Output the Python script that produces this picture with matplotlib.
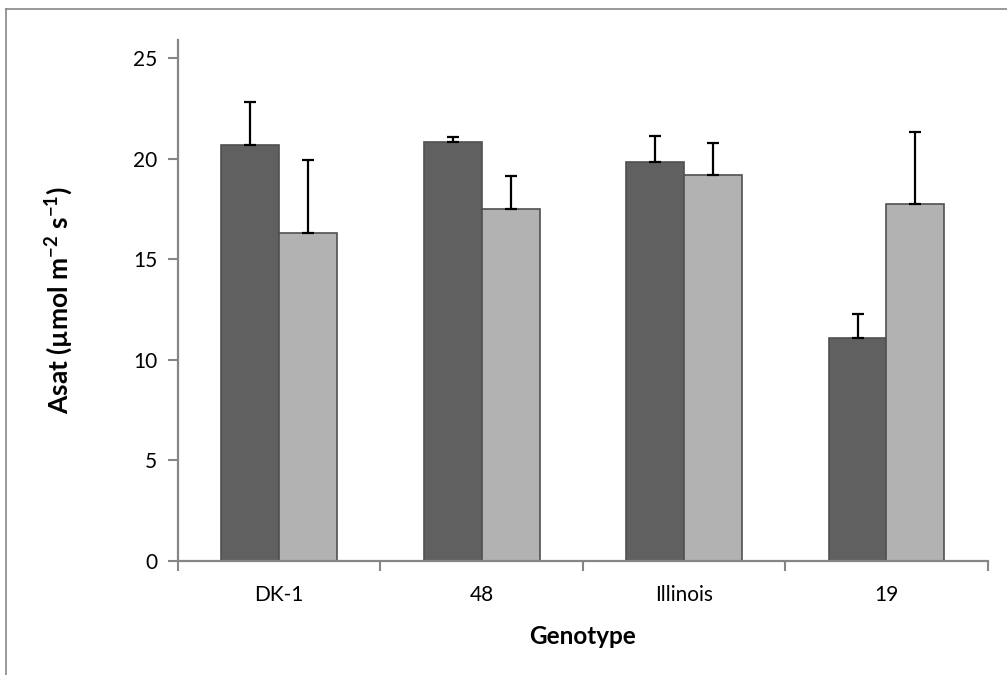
import numpy as np
import matplotlib
matplotlib.use("Agg")
import matplotlib.pyplot as plt
from matplotlib.lines import Line2D

plt.rcParams['font.family'] = ['Lato', 'DejaVu Sans']

genotypes = ["DK-1", "48", "Illinois", "19"]
dark_vals = [20.72, 20.86, 19.83, 11.1]
dark_err = [2.13, 0.22, 1.3, 1.2]
light_vals = [16.32, 17.5, 19.2, 17.76]
light_err = [3.63, 1.66, 1.61, 3.59]

fig = plt.figure(figsize=(10.07, 6.75), dpi=100)
ax = fig.add_axes([178/1007, 1-561/675, (987.7-178)/1007, (561-40)/675])

x = np.arange(len(genotypes))
w = 0.286
ax.bar(x - w/2, dark_vals, w, color="#606060", edgecolor="#505050", linewidth=1.2, zorder=2)
ax.bar(x + w/2, light_vals, w, color="#b2b2b2", edgecolor="#505050", linewidth=1.2, zorder=2)
ax.errorbar(x - w/2, dark_vals, yerr=[np.zeros(4), dark_err], fmt="none",
            ecolor="black", elinewidth=1.6, capsize=4.3, capthick=1.6, zorder=3)
ax.errorbar(x + w/2, light_vals, yerr=[np.zeros(4), light_err], fmt="none",
            ecolor="black", elinewidth=1.6, capsize=4.3, capthick=1.6, zorder=3)

ax.set_xlim(-0.5, 3.5)
ax.set_ylim(0, 25.92)
ax.set_yticks([0, 5, 10, 15, 20, 25])
ax.set_xticks([-0.5, 0.5, 1.5, 2.5, 3.5])
ax.set_xticklabels([])
ax.set_xticks(x, minor=True)
ax.set_xticklabels(genotypes, minor=True)
ax.tick_params(axis="x", which="minor", length=0, pad=17, labelsize=15)
ax.tick_params(axis="x", which="major", length=7, width=1.5, color="#868686", direction="out")
ax.tick_params(axis="y", length=7, width=1.5, color="#868686", labelsize=15, pad=8)

for s in ["top", "right"]:
    ax.spines[s].set_visible(False)
for s in ["left", "bottom"]:
    ax.spines[s].set_color("#868686")
    ax.spines[s].set_linewidth(1.6)

ax.set_xlabel("Genotype", fontsize=17.5, fontweight="bold", labelpad=15)
ax.set_ylabel("Asat (µmol m$^{\\mathregular{-2}}$ s$^{\\mathregular{-1}}$)", fontsize=19,
              fontweight="bold", labelpad=42)

fig.add_artist(Line2D([6/1007, 6/1007], [0, 1-9/675], color="#888888", linewidth=1.2))
fig.add_artist(Line2D([6/1007, 1], [1-9/675, 1-9/675], color="#888888", linewidth=1.2))

fig.savefig("out.png", dpi=100)
